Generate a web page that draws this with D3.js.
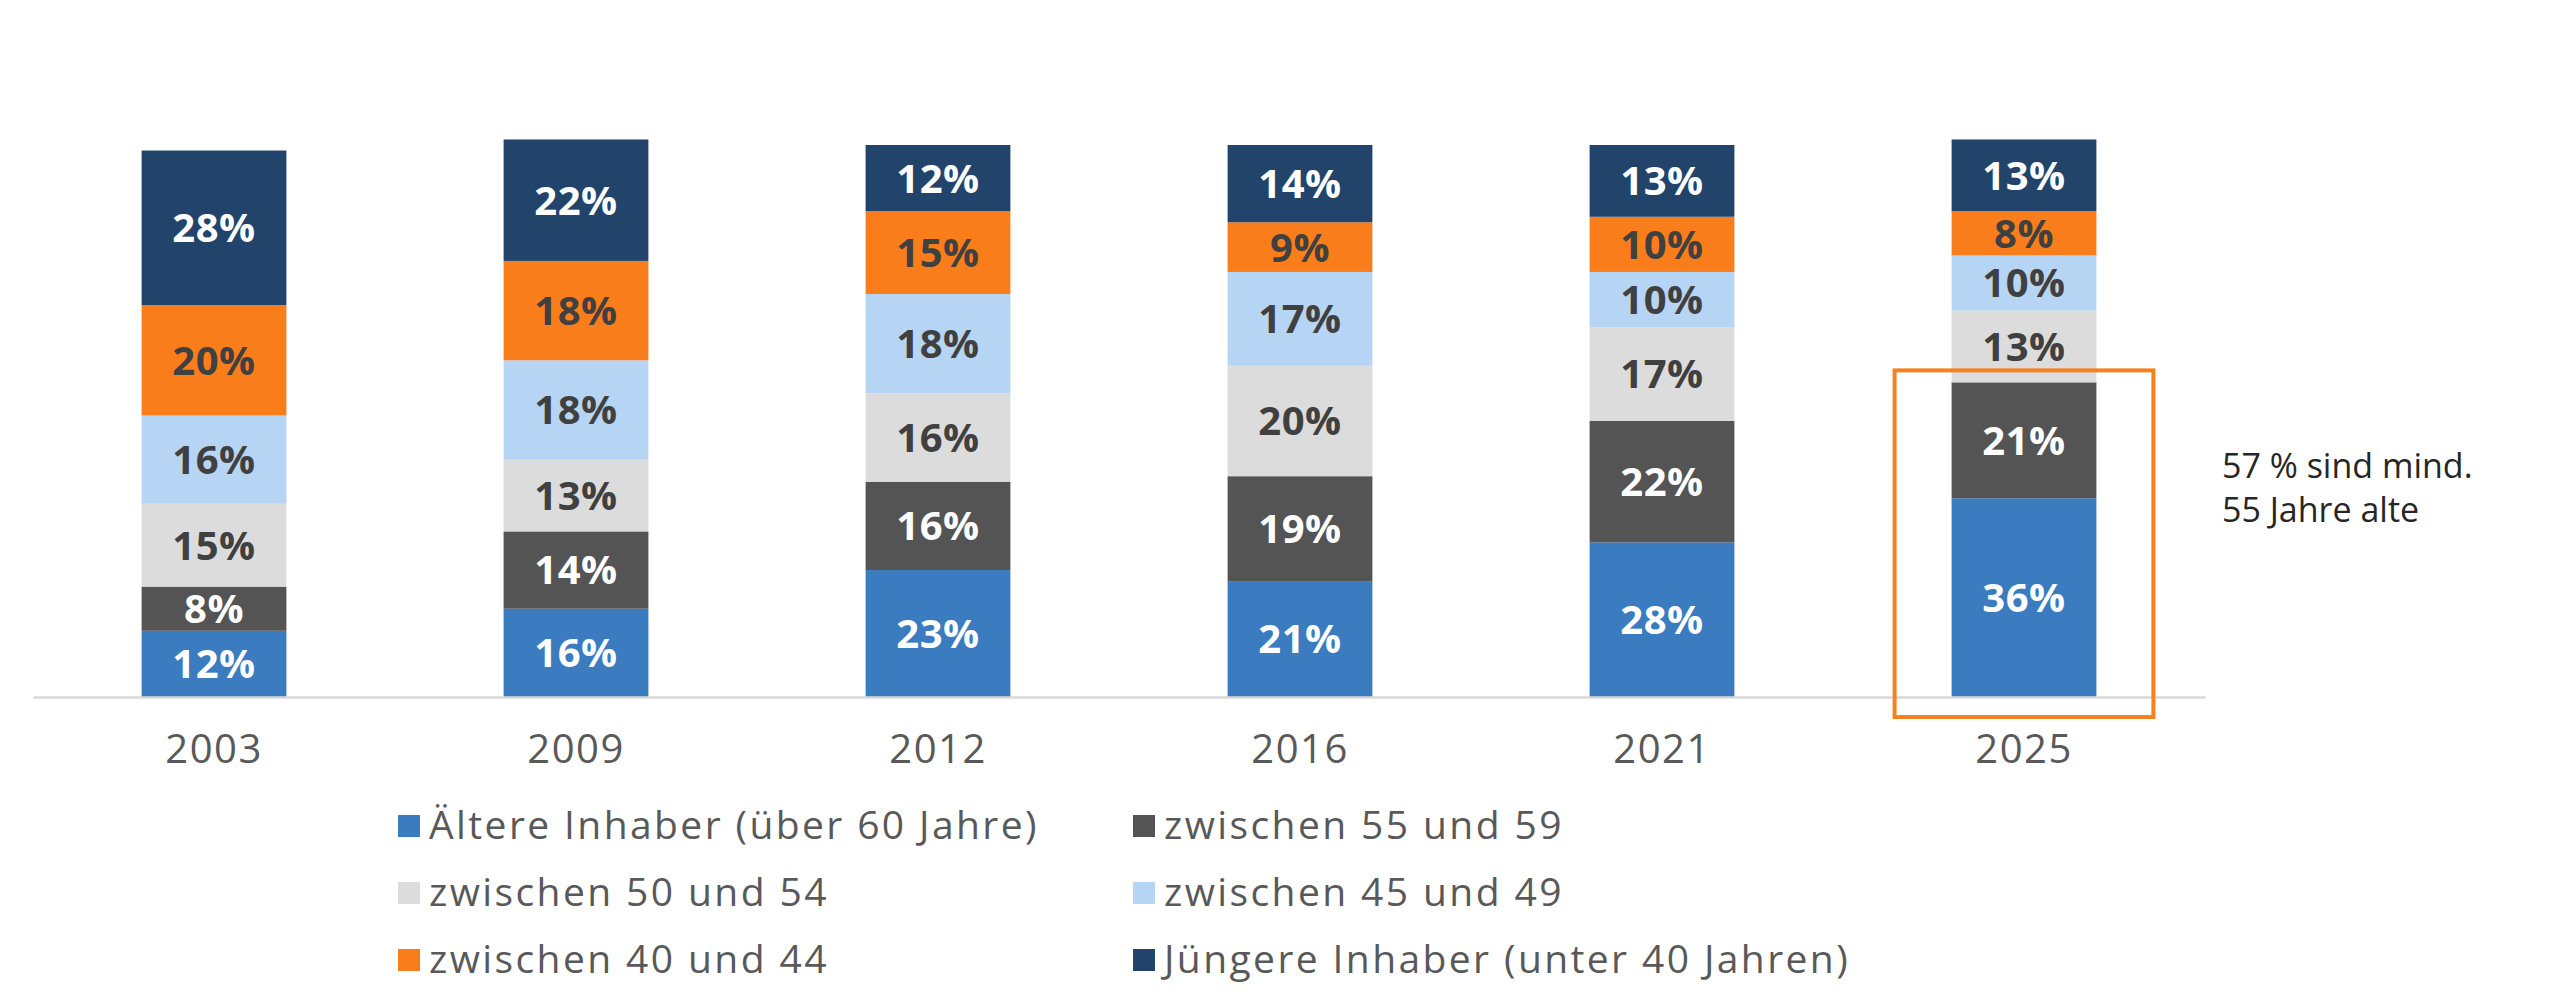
<!DOCTYPE html>
<html><head><meta charset="utf-8">
<script src="https://cdn.jsdelivr.net/npm/d3@7"></script>
<style>html,body{margin:0;padding:0;background:#fff;}svg{display:block;}</style>
</head><body>
<svg id="chart" width="2560" height="1007"></svg>
<script>
const years = ['2003','2009','2012','2016','2021','2025'];
const seriesNames = ['Ältere Inhaber (über 60 Jahre)','zwischen 55 und 59','zwischen 50 und 54','zwischen 45 und 49','zwischen 40 und 44','Jüngere Inhaber (unter 40 Jahren)'];
const over60   = [12,16,23,21,28,36];
const age55_59 = [8,14,16,19,22,21];
const age50_54 = [15,13,16,20,17,13];
const age45_49 = [16,18,18,17,10,10];
const age40_44 = [20,18,15,9,10,8];
const under40  = [28,22,12,14,13,13];
const seriesColors = ['#3B7BBF','#545454','#DCDCDC','#B6D4F4','#F97E1B','#22446B'];
const labelColors  = ['#ffffff','#ffffff','#404040','#404040','#404040','#ffffff'];
const annotationLines = ['57 % sind mind.','55 Jahre alte'];
const highlightYear = '2025';
const highlightShare = 57;

const seriesValues = [over60, age55_59, age50_54, age45_49, age40_44, under40];
const keys = seriesNames;
const table = years.map((yr, i) => {
  const row = {year: yr};
  keys.forEach((k, j) => row[k] = seriesValues[j][i]);
  return row;
});
const stack = d3.stack().keys(keys)(table);

const svg = d3.select('#chart');
const x = d3.scaleBand().domain(years).range([33, 2205]).paddingInner(0.6).paddingOuter(0.3);
const y = d3.scaleLinear().domain([0, 100]).range([697, 145]);
const color = d3.scaleOrdinal().domain(keys).range(seriesColors);
const lcolor = d3.scaleOrdinal().domain(keys).range(labelColors);

const g = svg.append('g');
const layers = g.selectAll('g.layer').data(stack).join('g').attr('class','layer')
  .attr('fill', d => color(d.key));
layers.selectAll('rect').data(d => d).join('rect')
  .attr('x', d => x(d.data.year))
  .attr('width', x.bandwidth())
  .attr('y', d => y(d[1]))
  .attr('height', d => y(d[0]) - y(d[1]));

layers.selectAll('text').data(d => d.map(v => Object.assign({key: d.key}, {v}))).join('text')
  .attr('x', d => x(d.v.data.year) + x.bandwidth()/2)
  .attr('y', d => (y(d.v[0]) + y(d.v[1]))/2)
  .attr('dy', '0.36em')
  .attr('text-anchor','middle')
  .attr('font-family','"Open Sans", sans-serif')
  .attr('font-weight', 700)
  .attr('font-size', 40)
  .attr('letter-spacing', 0.5)
  .attr('fill', d => lcolor(d.key))
  .text(d => (d.v[1]-d.v[0]) + '%');

// axis
const axis = svg.append('g').attr('transform', `translate(0,${y(0)})`)
  .call(d3.axisBottom(x).tickSize(0).tickPadding(0));
axis.select('.domain').attr('stroke','#D9D9D9').attr('stroke-width',2.5);
axis.selectAll('.tick text')
  .attr('y', 66).attr('dy', 0)
  .attr('font-family','"Open Sans", sans-serif')
  .attr('font-size', 40)
  .attr('letter-spacing', 1.5)
  .attr('fill','#595959');

// highlight box
const hx = x(highlightYear);
svg.append('rect')
  .attr('x', hx - 57)
  .attr('y', y(highlightShare) - 12)
  .attr('width', x.bandwidth() + 114)
  .attr('height', y(0) + 20 - (y(highlightShare) - 12))
  .attr('fill','none')
  .attr('stroke','#F5821F')
  .attr('stroke-width', 4);

// annotation
svg.append('g').selectAll('text').data(annotationLines).join('text')
  .attr('x', 2222)
  .attr('y', (d,i) => 478 + i*44)
  .attr('font-family','"Open Sans", sans-serif')
  .attr('font-size', 34)
  .attr('fill','#262626')
  .text(d => d);

// legend
const legend = svg.append('g');
const items = legend.selectAll('g').data(keys).join('g')
  .attr('transform', (d,i) => `translate(${i%2 === 0 ? 398 : 1133},${826 + Math.floor(i/2)*67})`);
items.append('rect').attr('x',0).attr('y',-11).attr('width',22).attr('height',22)
  .attr('fill', d => color(d));
items.append('text').attr('x', 31).attr('y', 13)
  .attr('font-family','"Open Sans", sans-serif')
  .attr('font-size', 39)
  .attr('letter-spacing', 2.4)
  .attr('fill','#595959')
  .text(d => d);
</script>
</body></html>
